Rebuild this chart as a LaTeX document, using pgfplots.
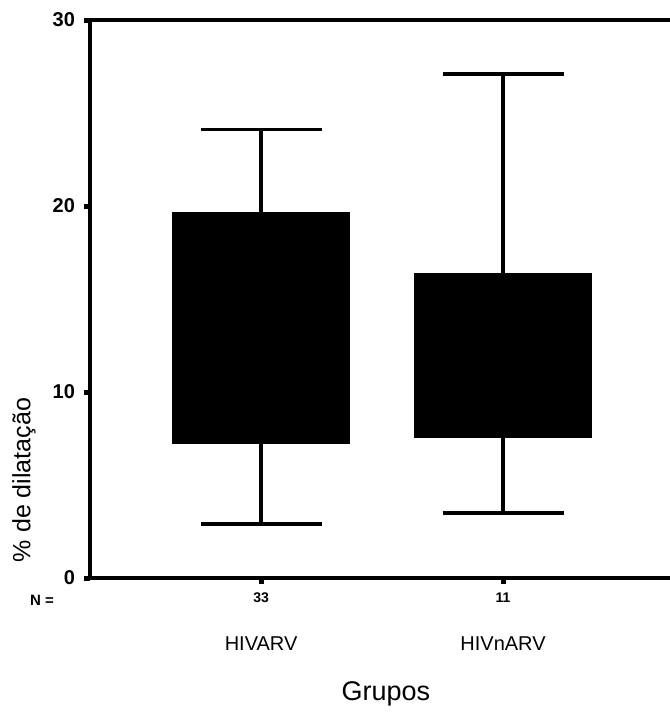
\documentclass[border=0pt]{standalone}
\usepackage{fontspec}
\setmainfont{Liberation Sans}
\usepackage{pgfplots}
\pgfplotsset{compat=1.18}
\usepgfplotslibrary{statistics}

\begin{document}
\begin{tikzpicture}
\begin{axis}[
  name=ax,
  scale only axis,
  width=290pt, height=279pt,
  xmin=0.293, xmax=2.69,
  ymin=0, ymax=30,
  axis x line=box, axis y line=left,
  axis line style={-, line width=1.6pt},
  xtick={1,2}, xtick pos=bottom,
  xticklabels={{\fontsize{7}{8}\selectfont\bfseries 33\\[12pt]\fontsize{10}{12}\selectfont HIVARV},
               {\fontsize{7}{8}\selectfont\bfseries 11\\[12pt]\fontsize{10}{12}\selectfont HIVnARV}},
  xticklabel style={align=center, anchor=north, yshift=-1pt},
  ytick={0,10,20,30},
  yticklabel style={font=\fontsize{10}{12}\selectfont\bfseries, xshift=-1pt},
  /pgf/number format/assume math mode=true,
  tick align=outside,
  major tick length=3pt,
  tick style={line width=2.5pt, black},
  xlabel={Grupos},
  xlabel style={font=\fontsize{13.5}{15}\selectfont, at={(rel axis cs:0.51,0)}, anchor=center, yshift=-58pt},
  boxplot/draw direction=y,
  clip=false,
]
\addplot+[black, fill=black, solid, line width=1.6pt, mark=none,
  boxplot prepared={draw position=1, box extend=0.72, whisker extend=0.5,
    lower whisker=2.9, lower quartile=7.3, median=13.0,
    upper quartile=19.6, upper whisker=24.1}]
  coordinates {};
\addplot+[black, fill=black, solid, line width=1.6pt, mark=none,
  boxplot prepared={draw position=2, box extend=0.72, whisker extend=0.5,
    lower whisker=3.5, lower quartile=7.6, median=11.5,
    upper quartile=16.3, upper whisker=27.1}]
  coordinates {};
\end{axis}
\node[font=\fontsize{7.5}{8}\selectfont\bfseries] at (-24pt,-11pt) {N =};
\node[rotate=90, font=\fontsize{12.5}{14}\selectfont] at (-33pt,49pt) {\% de dilatação};
\pgfresetboundingbox
\path[use as bounding box] (-45pt,-68pt) rectangle (290pt,289pt);
\end{tikzpicture}
\end{document}
